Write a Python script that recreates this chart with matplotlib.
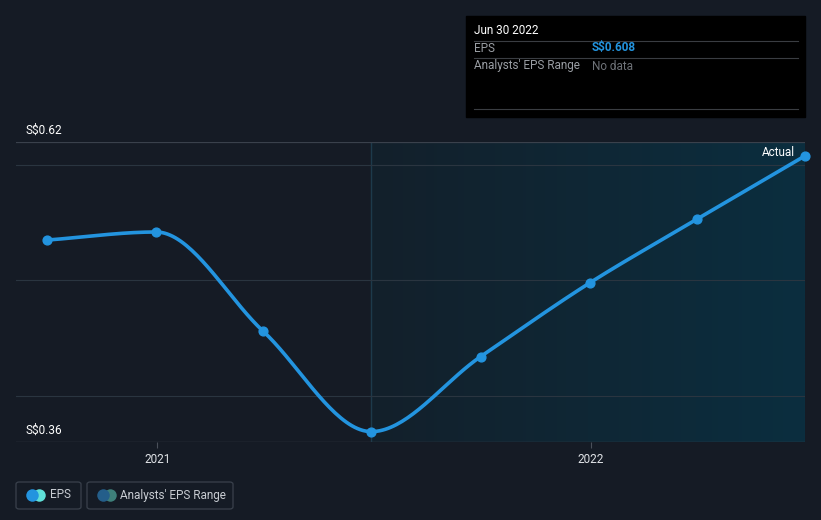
import numpy as np
import matplotlib
matplotlib.use("Agg")
import matplotlib.pyplot as plt
import matplotlib.dates as mdates
from matplotlib.patches import FancyBboxPatch, Rectangle
from matplotlib.colors import LinearSegmentedColormap
import datetime as dt

plt.rcParams['font.family'] = ['Roboto', 'DejaVu Sans']

# data
dates = ["2020-09-30", "2020-12-31", "2021-03-31", "2021-06-30",
         "2021-09-30", "2021-12-31", "2022-03-31", "2022-06-30"]
eps = [0.535, 0.542, 0.456, 0.369, 0.434, 0.498, 0.553, 0.608]
y_labels = ["S$0.62", "S$0.36"]
x_ticks = ["2021-01-01", "2022-01-01"]
x_tick_labels = ["2021", "2022"]

W, H = 821, 520
bg = "#151b25"
line_col = "#2394df"


def fx(px):
    return px / W


def fy(py):
    return 1 - py / H


def monotone(x, y, n=40):
    # monotone cubic (Fritsch-Carlson) for a smooth line through points
    x = np.asarray(x, float)
    y = np.asarray(y, float)
    h = np.diff(x)
    d = np.diff(y) / h
    m = np.zeros_like(y)
    m[0], m[-1] = d[0], d[-1]
    for i in range(1, len(y) - 1):
        if d[i - 1] * d[i] <= 0:
            m[i] = 0
        else:
            w1 = 2 * h[i] + h[i - 1]
            w2 = h[i] + 2 * h[i - 1]
            m[i] = (w1 + w2) / (w1 / d[i - 1] + w2 / d[i])
    xs, ys = [], []
    for i in range(len(x) - 1):
        t = np.linspace(0, 1, n)
        h00 = 2 * t**3 - 3 * t**2 + 1
        h10 = t**3 - 2 * t**2 + t
        h01 = -2 * t**3 + 3 * t**2
        h11 = t**3 - t**2
        xs.append(x[i] + t * h[i])
        ys.append(h00 * y[i] + h10 * h[i] * m[i] + h01 * y[i + 1] + h11 * h[i] * m[i + 1])
    return np.concatenate(xs), np.concatenate(ys)


xd = mdates.date2num([dt.datetime.fromisoformat(d) for d in dates])
xt = mdates.date2num([dt.datetime.fromisoformat(d) for d in x_ticks])
ymax, ymin = 0.62, 0.36

fig = plt.figure(figsize=(W / 100, H / 100), dpi=100)
fig.patch.set_facecolor(bg)

ax = fig.add_axes([fx(16), fy(442), fx(805) - fx(16), fy(142) - fy(442)])
ax.set_facecolor(bg)
x0 = mdates.date2num(dt.datetime(2020, 9, 4))
ax.set_xlim(x0, xd[-1])
ax.set_ylim(ymin, ymax)

# shaded "past" region with gradient
grad = np.linspace(0, 1, 256).reshape(1, -1)
cmap = LinearSegmentedColormap.from_list("g", ["#13202b", "#0b2e3f"])
ax.imshow(grad, cmap=cmap, aspect="auto", extent=[xd[3], xd[-1], ymin, ymax], zorder=0)
ax.axvline(xd[3], color="#1d3a4b", lw=1.0, zorder=1)

for g in [0.4, 0.5, 0.6]:
    ax.axhline(g, color="#2a3540", lw=0.8, zorder=1)
ax.axhline(ymax, color="#3a414c", lw=0.9, zorder=1)
ax.axhline(ymin, color="#4a505a", lw=0.9, zorder=1)

sx, sy = monotone(xd, eps)
ax.plot(sx, sy, color=line_col, lw=2.6, zorder=3, solid_capstyle="round")
ax.scatter(xd, eps, s=40, color=line_col, zorder=4, clip_on=False)

ax.text(xd[-1] - 8, 0.6105, "Actual", color="white", fontsize=8.5, ha="right", va="center")

for s in ax.spines.values():
    s.set_visible(False)
ax.set_xticks(xt)
ax.set_xticklabels(x_tick_labels, color="#e0e3e7", fontsize=8.5)
ax.tick_params(axis="x", length=4, color="#4a505a", pad=4)
ax.set_yticks([])

fig.text(fx(25), fy(130), y_labels[0], color="white", fontsize=8.5, va="center")
fig.text(fx(25), fy(430), y_labels[1], color="white", fontsize=8.5, va="center")

# tooltip box
fig.patches.append(Rectangle((fx(466), fy(117)), fx(805) - fx(466), fy(16) - fy(117),
                             transform=fig.transFigure, color="black", zorder=5))
for yy in [41, 58, 109]:
    fig.add_artist(plt.Line2D([fx(474), fx(798)], [fy(yy), fy(yy)], color="#3a3d42", lw=0.8, zorder=6))
fig.text(fx(474), fy(31), "Jun 30 2022", color="white", fontsize=8.5, va="center", zorder=7)
fig.text(fx(474), fy(48), "EPS", color="#9a9ea4", fontsize=8.5, va="center", zorder=7)
fig.text(fx(592), fy(48), "S$0.608", color=line_col, fontsize=8.5, va="center", weight="bold", zorder=7)
fig.text(fx(474), fy(66), "Analysts' EPS Range", color="#9a9ea4", fontsize=8.5, va="center", zorder=7)
fig.text(fx(592), fy(66), "No data", color="#6e7278", fontsize=8.5, va="center", zorder=7)

# legend
for (l, r, label, c1, c2, tx) in [(16, 81, "EPS", "#2394df", "#5fe0d8", 50),
                                  (87, 233, "Analysts' EPS Range", "#245e8a", "#3e7f7a", 120)]:
    fig.patches.append(FancyBboxPatch((fx(l), fy(509)), fx(r) - fx(l), fy(482) - fy(509),
                                      boxstyle="round,pad=0,rounding_size=0.004",
                                      transform=fig.transFigure, fc="none", ec="#3a414c", lw=0.9))
    fig.add_artist(plt.Line2D([fx(l + 23)], [fy(495)], marker="o", ms=9, mew=0,
                              color=c2, zorder=2))
    fig.add_artist(plt.Line2D([fx(l + 16)], [fy(495)], marker="o", ms=9, mew=0,
                              color=c1, zorder=3))
    fig.text(fx(tx), fy(495), label, color="#c8ccd2", fontsize=8.5, va="center")

fig.savefig("out.png", dpi=100, facecolor=bg)
